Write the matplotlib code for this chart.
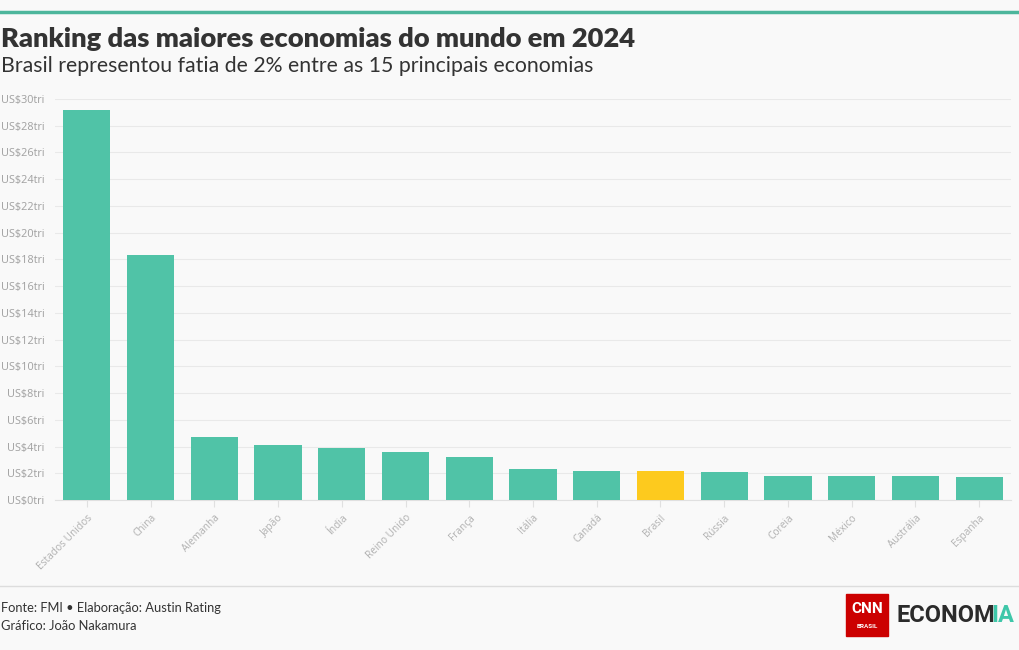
import matplotlib
matplotlib.use("Agg")
import matplotlib.pyplot as plt
from matplotlib.patches import Rectangle

# Data (US$ trillions, 2024)
countries = ["Estados Unidos", "China", "Alemanha", "Japão", "Índia", "Reino Unido",
             "França", "Itália", "Canadá", "Brasil", "Rússia", "Coreia", "México",
             "Austrália", "Espanha"]
gdp = [29.2, 18.3, 4.7, 4.1, 3.9, 3.6, 3.2, 2.3, 2.2, 2.2, 2.1, 1.8, 1.8, 1.8, 1.7]
highlight = "Brasil"
yticks = list(range(0, 31, 2))
ytick_labels = [f"US${v}tri" for v in yticks]

title = "Ranking das maiores economias do mundo em 2024"
subtitle = "Brasil representou fatia de 2% entre as 15 principais economias"
footer1 = "Fonte: FMI • Elaboração: Austin Rating"
footer2 = "Gráfico: João Nakamura"

TEAL = "#50c3a7"
YELLOW = "#fdca1e"
BG = "#f9f9f9"

W, H = 1020, 650
fig = plt.figure(figsize=(W / 100, H / 100), dpi=100, facecolor=BG)

def fx(px):
    return px / W

def fy(py):
    return 1 - py / H

# top accent line
fig.add_artist(plt.Line2D([0, 1], [fy(12), fy(12)], color="#4db69c", lw=2.5))

fig.text(fx(1), fy(39), title, fontsize=19.6, fontweight="heavy", color="#333333",
         family=["Lato", "DejaVu Sans"], va="center", ha="left")
fig.text(fx(1), fy(66), subtitle, fontsize=15.3, color="#333333",
         family=["Lato", "DejaVu Sans"], va="center", ha="left")

ax = fig.add_axes([fx(55), fy(500), fx(1011) - fx(55), fy(99) - fy(500)])
ax.set_facecolor(BG)
colors = [YELLOW if c == highlight else TEAL for c in countries]
x = list(range(len(countries)))
ax.bar(x, gdp, width=0.74, color=colors, zorder=3)
ax.set_xlim(-0.5, len(countries) - 0.5)
ax.set_ylim(0, 30)
ax.set_yticks(yticks)
ax.set_yticklabels(ytick_labels, fontsize=7.8, color="#a0a0a0", family=["Open Sans", "DejaVu Sans"])
ax.set_xticks(x)
ax.set_xticklabels(countries, rotation=45, ha="right", rotation_mode="anchor",
                   fontsize=7.3, color="#b0b0b0", family=["Open Sans", "DejaVu Sans"])
ax.tick_params(axis="y", length=0, pad=7.5)
ax.tick_params(axis="x", length=5, color="#e0e0e0", pad=4)
ax.grid(axis="y", color="#e9e9e9", lw=0.8, zorder=0)
for s in ["top", "right", "left"]:
    ax.spines[s].set_visible(False)
ax.spines["bottom"].set_color("#e0e0e0")

# footer separator
fig.add_artist(plt.Line2D([0, 1], [fy(586), fy(586)], color="#dddddd", lw=1))
fig.text(fx(1), fy(608), footer1, fontsize=9.3, color="#333333",
         family=["Lato", "DejaVu Sans"], va="center")
fig.text(fx(1), fy(626), footer2, fontsize=9.3, color="#333333",
         family=["Lato", "DejaVu Sans"], va="center")

# logo
fig.add_artist(Rectangle((fx(846), fy(636)), fx(42), fy(594) - fy(636),
                         transform=fig.transFigure, color="#cc0000"))
fig.text(fx(867), fy(609), "CNN", fontsize=11, fontweight="bold", color="white",
         ha="center", va="center", family=["Roboto", "DejaVu Sans"])
fig.text(fx(867), fy(626), "BRASIL", fontsize=4.5, fontweight="bold", color="white",
         ha="center", va="center", family=["Roboto", "DejaVu Sans"])
logo_font = ["Roboto", "DejaVu Sans"]
t1 = fig.text(fx(897), fy(616), "ECONOM", fontsize=17, fontweight="bold", color="#2b2b2b",
              ha="left", va="center", family=logo_font)
fig.canvas.draw()
bb = t1.get_window_extent()
fig.text((bb.x1 - 4) / W, fy(616), "IA", fontsize=17, fontweight="bold", color="#3fc7a9",
         ha="left", va="center", family=logo_font)

fig.savefig("out.png", dpi=100, facecolor=BG)
